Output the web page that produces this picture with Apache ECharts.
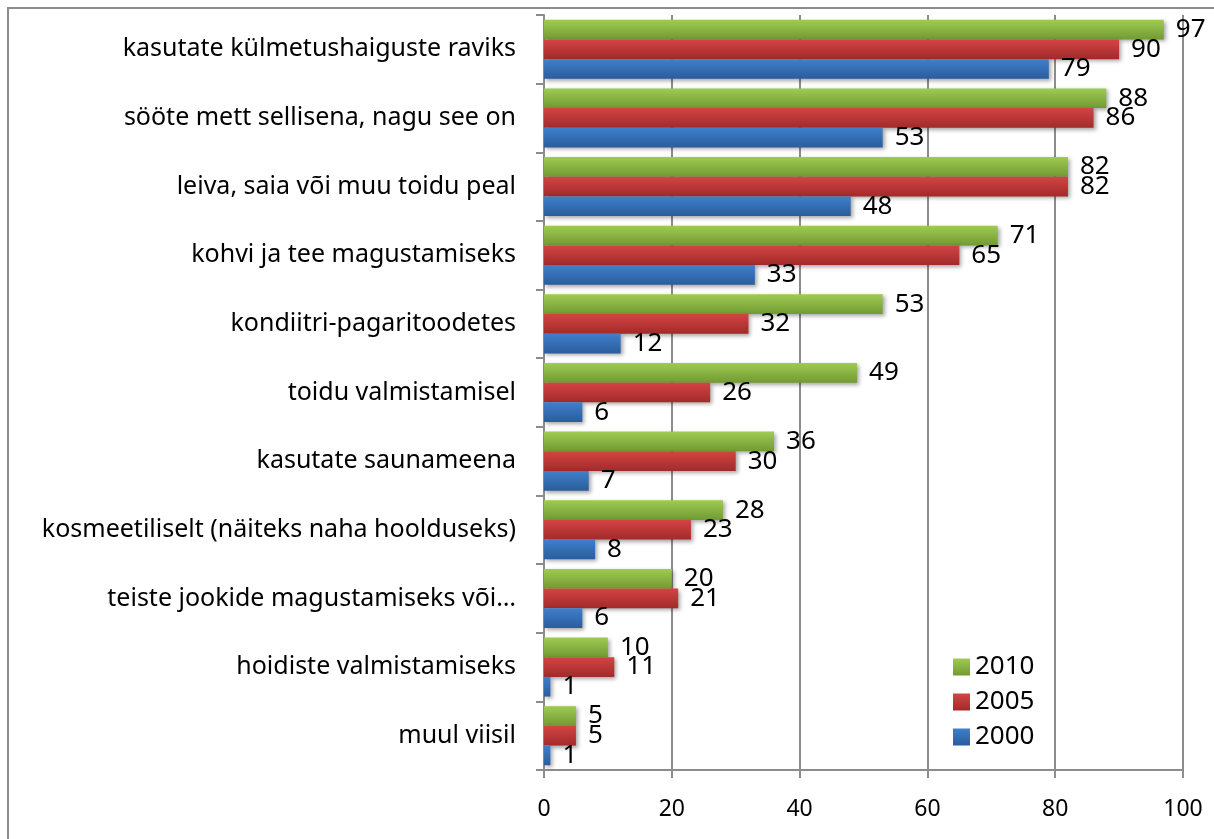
<!DOCTYPE html>
<html>
<head>
<meta charset="utf-8">
<script src="https://cdn.jsdelivr.net/npm/echarts@6/dist/echarts.min.js"></script>
<style>
    html, body { margin: 0; padding: 0; background: #fff; }
    #chart { width: 1214px; height: 839px; }
</style>
</head>
<body>
<div id="chart"></div>
<script>
const categories = [
    'kasutate külmetushaiguste raviks',
    'sööte mett sellisena, nagu see on',
    'leiva, saia või muu toidu peal',
    'kohvi ja tee magustamiseks',
    'kondiitri-pagaritoodetes',
    'toidu valmistamisel',
    'kasutate saunameena',
    'kosmeetiliselt (näiteks naha hoolduseks)',
    'teiste jookide magustamiseks või…',
    'hoidiste valmistamiseks',
    'muul viisil'
];
const years = ['2010', '2005', '2000'];
const values2010 = [97, 88, 82, 71, 53, 49, 36, 28, 20, 10, 5];
const values2005 = [90, 86, 82, 65, 32, 26, 30, 23, 21, 11, 5];
const values2000 = [79, 53, 48, 33, 12, 6, 7, 8, 6, 1, 1];
const xTicks = [0, 100, 20]; // min, max, interval

const font = 'Noto Sans';
const axisGrey = '#8c8c8c';

function grad(top, bottom) {
    return new echarts.graphic.LinearGradient(0, 0, 0, 1, [
        { offset: 0, color: top },
        { offset: 1, color: bottom }
    ]);
}

function makeSeries(name, data, top, bottom) {
    return {
        name: name,
        type: 'bar',
        data: data,
        barGap: '0%',
        barCategoryGap: '14%',
        itemStyle: {
            color: grad(top, bottom),
            shadowColor: 'rgba(0,0,0,0.35)',
            shadowBlur: 4,
            shadowOffsetX: 2,
            shadowOffsetY: 2
        },
        label: {
            show: true,
            position: 'right',
            distance: 12,
            fontFamily: font,
            fontSize: 26,
            color: '#000'
        }
    };
}

const myChart = echarts.init(document.getElementById('chart'));
const option = {
    animation: false,
    textStyle: { fontFamily: font },
    grid: {
        left: 544,
        right: 31,
        top: 15,
        bottom: 69
    },
    legend: {
        orient: 'vertical',
        left: 948,
        top: 649,
        itemWidth: 17,
        itemHeight: 17,
        itemGap: 9,
        icon: 'rect',
        data: years,
        textStyle: { fontFamily: font, fontSize: 26, color: '#000' }
    },
    xAxis: {
        type: 'value',
        min: xTicks[0],
        max: xTicks[1],
        interval: xTicks[2],
        axisLine: { show: true, lineStyle: { color: axisGrey, width: 2 } },
        axisTick: { show: true, length: 8, lineStyle: { color: axisGrey, width: 2 } },
        splitLine: { show: true, lineStyle: { color: axisGrey, width: 2 } },
        axisLabel: { margin: 28, fontFamily: font, fontSize: 23, color: '#000' }
    },
    yAxis: {
        type: 'category',
        inverse: true,
        data: categories,
        axisLine: { show: true, lineStyle: { color: axisGrey, width: 2 } },
        axisTick: { show: true, length: 8, lineStyle: { color: axisGrey, width: 2 } },
        axisLabel: { margin: 28, fontFamily: font, fontSize: 25, color: '#000' }
    },
    graphic: [
        {
            type: 'polyline',
            silent: true,
            shape: { points: [[8, 839], [8, 8], [1214, 8]] },
            style: { stroke: '#8c8c8c', lineWidth: 2, fill: null }
        }
    ],
    series: [
        makeSeries('2010', values2010, '#9fcb52', '#729a33'),
        makeSeries('2005', values2005, '#d44444', '#a22a2a'),
        makeSeries('2000', values2000, '#3f7fcc', '#2a5d9c')
    ]
};
myChart.setOption(option);
</script>
</body>
</html>
